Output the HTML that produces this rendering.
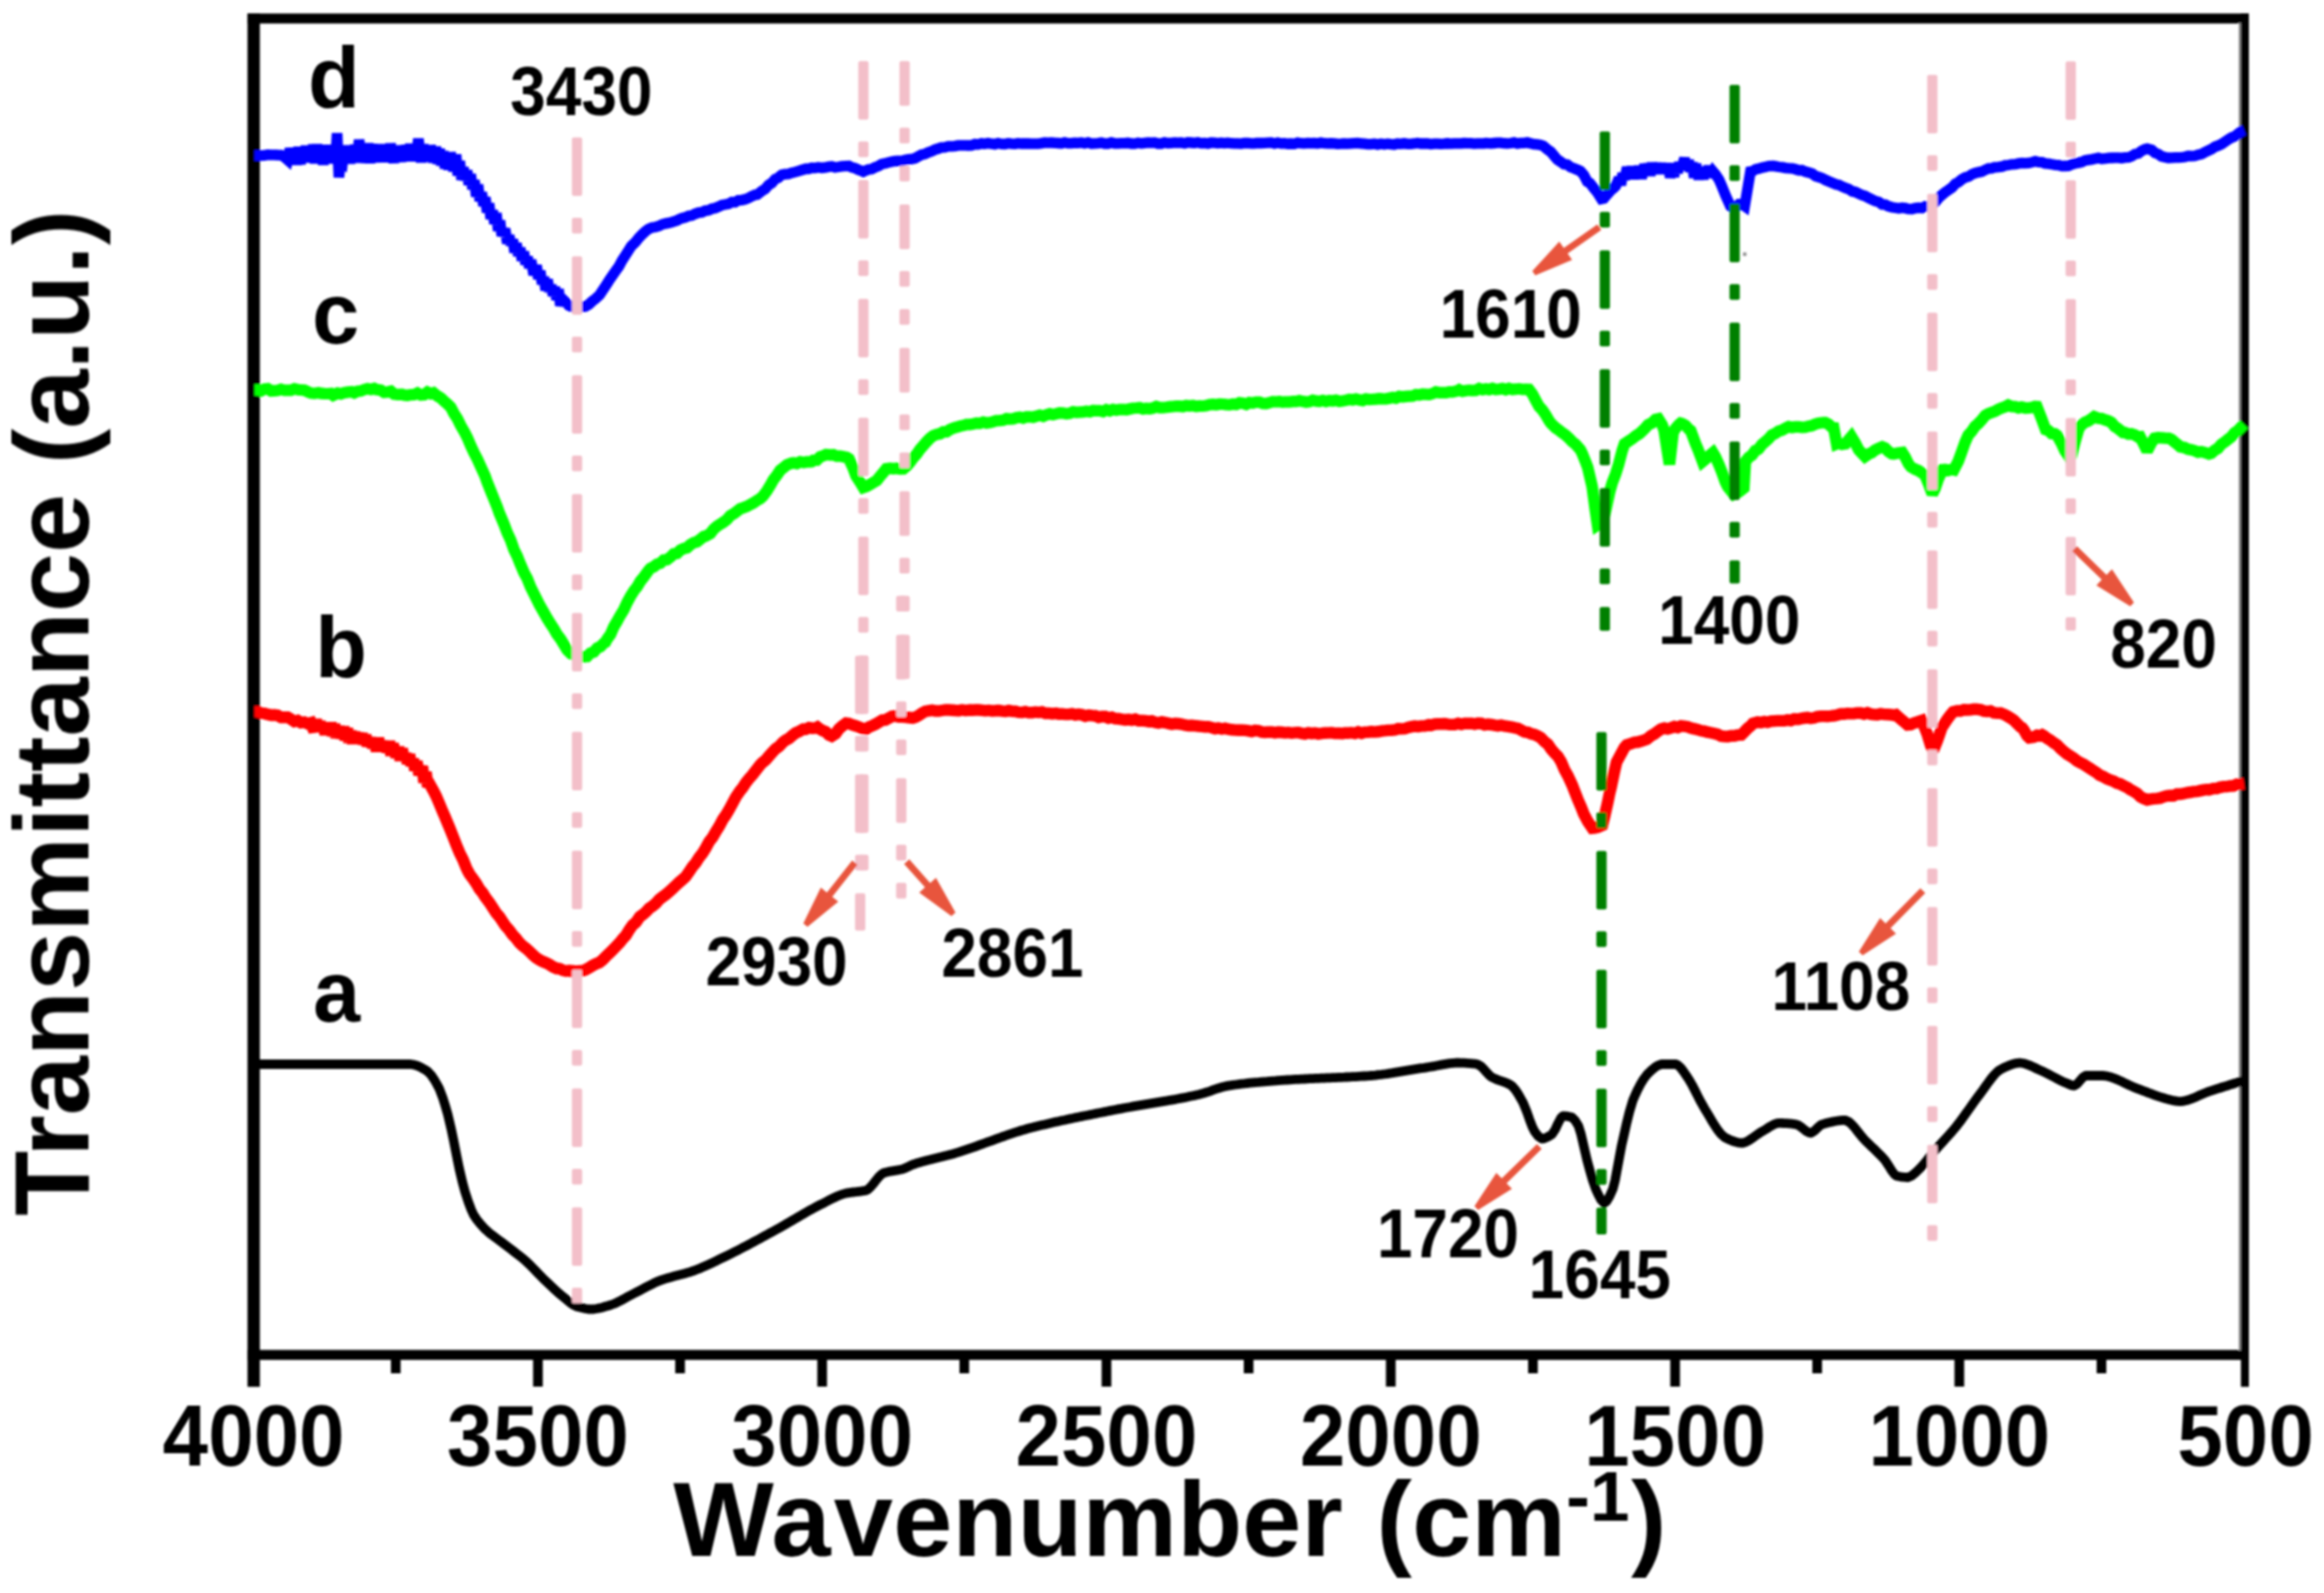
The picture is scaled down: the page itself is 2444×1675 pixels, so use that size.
<!DOCTYPE html>
<html lang="en">
<head>
<meta charset="utf-8">
<title>FTIR spectra</title>
<style>
html,body{margin:0;padding:0;background:#fff;}
body{width:2444px;height:1675px;overflow:hidden;}
svg{display:block;}
text{font-family:"Liberation Sans",Arial,Helvetica,sans-serif;font-weight:bold;fill:#000;}
.tk{font-size:90px;}
.an{font-size:69px;}
.lt{font-size:89px;}
.ax{font-size:112px;}
.cv{fill:none;stroke-linejoin:round;stroke-linecap:butt;}
.cm{fill:none;stroke-linejoin:miter;stroke-miterlimit:2.2;stroke-linecap:butt;}
</style>
</head>
<body>
<svg width="2444" height="1675" viewBox="0 0 2444 1675">
<defs><filter id="soft" x="0" y="0" width="2444" height="1675" filterUnits="userSpaceOnUse"><feGaussianBlur stdDeviation="1"/></filter></defs>
<rect x="0" y="0" width="2444" height="1675" fill="#fff"/>
<g filter="url(#soft)">
<!-- frame -->
<rect x="260.5" y="14.2" width="2104.5" height="10.5" fill="#000"/>
<rect x="260.5" y="1419.4" width="2104.5" height="10.5" fill="#000"/>
<rect x="260.3" y="14.2" width="13" height="1444" fill="#000"/>
<rect x="2354.4" y="24" width="3" height="1396" fill="#8a8a8a"/>
<rect x="2356.6" y="14.2" width="8.4" height="1444" fill="#000"/>
<g>
<rect x="411.1" y="1425" width="10.2" height="19" fill="#000"/>
<rect x="560.6" y="1425" width="10.2" height="33" fill="#000"/>
<rect x="710.1" y="1425" width="10.2" height="19" fill="#000"/>
<rect x="859.5" y="1425" width="10.2" height="33" fill="#000"/>
<rect x="1009.0" y="1425" width="10.2" height="19" fill="#000"/>
<rect x="1158.5" y="1425" width="10.2" height="33" fill="#000"/>
<rect x="1308.0" y="1425" width="10.2" height="19" fill="#000"/>
<rect x="1457.5" y="1425" width="10.2" height="33" fill="#000"/>
<rect x="1607.0" y="1425" width="10.2" height="19" fill="#000"/>
<rect x="1756.5" y="1425" width="10.2" height="33" fill="#000"/>
<rect x="1905.9" y="1425" width="10.2" height="19" fill="#000"/>
<rect x="2055.4" y="1425" width="10.2" height="33" fill="#000"/>
<rect x="2204.9" y="1425" width="10.2" height="19" fill="#000"/>
</g>
<!-- spectra a, b, c, d -->
<path class="cv" d="M267.5 1119.0 L270.5 1119.0 L273.5 1119.0 L276.5 1119.0 L279.5 1119.0 L282.5 1119.0 L285.5 1119.0 L288.5 1119.0 L291.5 1119.0 L294.5 1119.0 L297.5 1119.0 L300.5 1119.0 L303.5 1119.0 L306.5 1119.0 L309.5 1119.0 L312.5 1119.0 L315.5 1119.0 L318.5 1119.0 L321.5 1119.0 L324.5 1119.0 L327.5 1119.0 L330.5 1119.0 L333.5 1119.0 L336.5 1119.0 L339.5 1119.0 L342.5 1119.0 L345.5 1119.0 L348.5 1119.0 L351.5 1119.0 L354.5 1119.0 L357.5 1119.0 L360.5 1119.0 L363.5 1119.0 L366.5 1119.0 L369.5 1119.0 L372.5 1119.0 L375.5 1119.0 L378.5 1119.0 L381.5 1119.0 L384.5 1119.0 L387.5 1119.0 L390.5 1119.0 L393.5 1119.0 L396.5 1119.0 L399.5 1119.0 L402.5 1119.0 L405.5 1119.0 L408.5 1119.0 L411.5 1119.0 L414.5 1119.0 L417.5 1119.0 L420.5 1119.0 L423.5 1119.0 L426.5 1119.0 L429.5 1119.0 L431.8 1119.0 L435.5 1119.6 L438.5 1120.5 L441.5 1121.8 L444.5 1123.4 L447.5 1125.1 L449.8 1126.6 L453.5 1130.5 L456.5 1134.9 L459.5 1140.1 L461.9 1144.6 L465.5 1153.9 L468.5 1163.5 L470.9 1171.8 L474.5 1187.2 L477.0 1198.9 L480.5 1216.7 L483.0 1229.0 L486.5 1243.8 L489.0 1253.0 L492.5 1263.7 L495.5 1271.8 L498.0 1277.2 L501.5 1282.5 L504.5 1286.2 L507.5 1289.6 L510.1 1292.3 L513.5 1295.4 L516.5 1297.9 L519.5 1300.2 L522.5 1302.4 L525.5 1304.6 L528.5 1306.8 L531.2 1308.9 L534.5 1311.4 L537.5 1313.7 L540.5 1316.0 L543.5 1318.3 L546.5 1320.6 L549.5 1323.0 L552.3 1325.4 L555.5 1328.4 L558.5 1331.3 L561.5 1334.4 L564.5 1337.5 L567.5 1340.6 L570.5 1343.7 L573.4 1346.5 L576.5 1349.4 L579.5 1352.3 L582.5 1355.1 L585.5 1357.8 L588.5 1360.5 L591.5 1363.0 L594.5 1365.4 L597.5 1367.9 L600.5 1370.3 L603.5 1372.3 L606.5 1373.7 L609.5 1374.6 L612.5 1375.3 L615.5 1376.0 L618.5 1376.5 L621.6 1376.7 L624.5 1376.5 L627.5 1376.0 L630.5 1375.4 L633.5 1374.7 L636.5 1373.8 L639.5 1373.0 L642.7 1372.0 L645.5 1371.0 L648.5 1369.7 L651.5 1368.2 L654.5 1366.6 L657.5 1365.0 L660.5 1363.3 L663.5 1361.7 L666.8 1360.0 L669.5 1358.6 L672.5 1357.1 L675.5 1355.5 L678.5 1353.9 L681.5 1352.3 L684.5 1350.8 L687.5 1349.3 L690.5 1347.9 L693.9 1346.5 L696.5 1345.6 L699.5 1344.6 L702.5 1343.7 L705.5 1342.9 L708.5 1342.1 L711.5 1341.3 L714.5 1340.5 L717.5 1339.7 L720.5 1338.9 L723.5 1338.1 L726.5 1337.2 L730.0 1336.0 L732.5 1335.0 L735.5 1333.9 L738.5 1332.6 L741.5 1331.3 L744.5 1329.9 L747.5 1328.6 L750.5 1327.1 L753.5 1325.7 L756.5 1324.2 L759.5 1322.7 L762.5 1321.3 L765.5 1319.8 L768.5 1318.3 L772.3 1316.4 L774.5 1315.3 L777.5 1313.8 L780.5 1312.2 L783.5 1310.7 L786.5 1309.1 L789.5 1307.5 L792.5 1305.9 L795.5 1304.3 L798.5 1302.7 L801.5 1301.0 L804.5 1299.4 L807.5 1297.8 L810.5 1296.1 L813.5 1294.5 L817.5 1292.3 L819.5 1291.2 L822.5 1289.5 L825.5 1287.8 L828.5 1286.0 L831.5 1284.3 L834.5 1282.5 L837.5 1280.8 L840.5 1279.0 L843.5 1277.3 L846.5 1275.5 L849.5 1273.8 L852.5 1272.1 L855.5 1270.5 L858.5 1268.9 L862.7 1266.7 L864.5 1265.8 L867.5 1264.3 L870.5 1262.7 L873.5 1261.2 L876.5 1259.7 L879.5 1258.3 L882.5 1257.0 L885.5 1255.9 L889.8 1254.6 L891.5 1254.3 L894.5 1253.8 L897.5 1253.5 L900.5 1253.2 L903.5 1252.8 L906.5 1252.4 L909.5 1251.9 L910.9 1251.6 L912.5 1250.8 L915.5 1248.1 L918.5 1244.6 L921.5 1240.8 L924.5 1237.1 L927.5 1234.4 L929.0 1233.5 L930.5 1233.0 L933.5 1232.3 L936.5 1231.6 L939.5 1231.1 L942.5 1230.6 L945.5 1230.1 L948.5 1229.4 L950.0 1229.0 L951.5 1228.4 L954.5 1227.1 L957.5 1225.6 L960.0 1224.5 L963.5 1223.3 L966.5 1222.4 L969.5 1221.6 L972.5 1220.7 L975.5 1219.9 L978.5 1219.2 L981.5 1218.4 L984.5 1217.7 L987.5 1217.0 L990.5 1216.3 L993.5 1215.5 L996.5 1214.8 L999.5 1214.0 L1002.5 1213.2 L1005.2 1212.4 L1008.5 1211.4 L1011.5 1210.4 L1014.5 1209.4 L1017.5 1208.4 L1020.5 1207.4 L1023.5 1206.4 L1026.5 1205.3 L1029.5 1204.2 L1032.5 1203.1 L1035.5 1202.0 L1038.5 1200.9 L1041.5 1199.9 L1044.5 1198.8 L1047.5 1197.7 L1050.5 1196.6 L1053.5 1195.5 L1056.5 1194.5 L1059.5 1193.4 L1062.5 1192.4 L1065.5 1191.4 L1068.5 1190.4 L1071.5 1189.5 L1074.5 1188.5 L1077.5 1187.7 L1080.5 1186.8 L1083.5 1186.0 L1086.5 1185.3 L1089.5 1184.5 L1092.5 1183.8 L1095.5 1183.1 L1098.5 1182.4 L1101.5 1181.7 L1104.5 1181.0 L1107.5 1180.3 L1110.5 1179.6 L1113.5 1179.0 L1116.5 1178.3 L1119.5 1177.7 L1122.5 1177.0 L1125.5 1176.4 L1128.5 1175.8 L1131.5 1175.1 L1134.5 1174.5 L1137.5 1173.9 L1140.5 1173.3 L1143.5 1172.7 L1146.5 1172.1 L1149.5 1171.5 L1152.5 1170.9 L1155.5 1170.3 L1158.5 1169.7 L1161.5 1169.1 L1164.5 1168.5 L1167.5 1167.9 L1170.9 1167.2 L1173.5 1166.7 L1176.5 1166.1 L1179.5 1165.6 L1182.5 1165.0 L1185.5 1164.5 L1188.5 1164.0 L1191.5 1163.4 L1194.5 1162.9 L1197.5 1162.4 L1200.5 1161.9 L1203.5 1161.4 L1206.5 1160.9 L1209.5 1160.4 L1212.5 1159.9 L1215.5 1159.4 L1218.5 1158.9 L1221.5 1158.4 L1224.5 1157.9 L1227.5 1157.4 L1230.5 1156.8 L1233.5 1156.3 L1236.5 1155.8 L1239.5 1155.2 L1242.5 1154.6 L1245.5 1154.1 L1248.5 1153.5 L1251.5 1152.8 L1254.5 1152.2 L1257.5 1151.6 L1261.3 1150.7 L1263.5 1150.1 L1266.5 1149.2 L1269.5 1148.3 L1272.5 1147.3 L1275.5 1146.2 L1278.5 1145.2 L1281.5 1144.2 L1284.5 1143.3 L1287.5 1142.5 L1291.5 1141.6 L1293.5 1141.3 L1296.5 1140.9 L1299.5 1140.5 L1302.5 1140.1 L1305.5 1139.7 L1308.5 1139.4 L1311.5 1139.0 L1314.5 1138.7 L1317.5 1138.4 L1320.5 1138.1 L1323.5 1137.9 L1326.5 1137.6 L1329.5 1137.3 L1332.5 1137.1 L1335.5 1136.8 L1338.5 1136.6 L1341.5 1136.4 L1344.5 1136.1 L1347.5 1135.9 L1351.7 1135.6 L1353.5 1135.5 L1356.5 1135.3 L1359.5 1135.1 L1362.5 1134.9 L1365.5 1134.8 L1368.5 1134.6 L1371.5 1134.5 L1374.5 1134.3 L1377.5 1134.2 L1380.5 1134.1 L1383.5 1133.9 L1386.5 1133.8 L1389.5 1133.7 L1392.5 1133.6 L1395.5 1133.4 L1398.5 1133.3 L1401.5 1133.2 L1404.5 1133.1 L1407.5 1132.9 L1410.5 1132.8 L1413.5 1132.7 L1416.5 1132.5 L1419.5 1132.4 L1422.5 1132.2 L1425.5 1132.1 L1428.5 1131.9 L1431.5 1131.7 L1434.5 1131.5 L1437.5 1131.3 L1440.5 1131.1 L1442.0 1131.0 L1443.5 1130.9 L1446.5 1130.6 L1449.5 1130.2 L1452.5 1129.9 L1455.5 1129.5 L1458.5 1129.1 L1461.5 1128.6 L1464.5 1128.2 L1467.5 1127.7 L1470.5 1127.2 L1473.5 1126.7 L1476.5 1126.2 L1479.5 1125.7 L1482.5 1125.2 L1485.5 1124.7 L1488.5 1124.2 L1491.5 1123.7 L1494.5 1123.2 L1497.5 1122.8 L1500.5 1122.3 L1502.4 1122.0 L1506.5 1121.3 L1509.5 1120.8 L1512.5 1120.2 L1515.5 1119.6 L1518.5 1119.1 L1521.5 1118.6 L1524.5 1118.1 L1527.5 1117.8 L1530.5 1117.6 L1532.5 1117.5 L1536.5 1117.6 L1539.5 1117.7 L1542.5 1117.9 L1545.5 1118.1 L1548.5 1118.4 L1551.5 1118.7 L1553.6 1119.0 L1557.5 1121.3 L1560.5 1124.3 L1563.5 1127.7 L1566.5 1130.9 L1568.7 1132.6 L1572.5 1134.4 L1575.5 1135.6 L1578.5 1136.6 L1581.5 1137.6 L1584.5 1138.8 L1587.5 1140.2 L1589.8 1141.6 L1593.5 1145.7 L1596.5 1150.3 L1599.5 1155.5 L1601.8 1159.7 L1605.5 1168.7 L1608.5 1177.2 L1611.5 1185.1 L1613.9 1189.8 L1617.5 1194.5 L1621.4 1197.4 L1623.5 1197.1 L1626.5 1196.0 L1629.5 1194.4 L1632.0 1192.9 L1635.5 1187.6 L1638.5 1181.2 L1641.5 1175.5 L1644.0 1173.3 L1647.5 1173.6 L1650.5 1174.2 L1653.0 1174.8 L1656.5 1178.2 L1660.0 1184.0 L1662.5 1191.9 L1665.5 1204.9 L1669.0 1220.0 L1671.5 1229.1 L1674.5 1239.8 L1678.0 1250.0 L1680.5 1255.5 L1683.5 1261.4 L1687.0 1265.0 L1689.5 1263.1 L1692.5 1258.2 L1696.2 1250.0 L1698.5 1241.0 L1701.5 1224.8 L1705.2 1205.0 L1707.5 1194.8 L1710.5 1181.5 L1713.5 1169.3 L1717.3 1156.7 L1719.5 1151.6 L1722.5 1145.2 L1725.5 1139.5 L1728.5 1134.6 L1732.3 1129.6 L1734.5 1127.5 L1737.5 1124.7 L1740.5 1122.2 L1743.5 1120.3 L1747.4 1119.0 L1749.5 1119.0 L1752.5 1119.0 L1755.5 1119.0 L1758.5 1119.0 L1762.5 1119.0 L1764.5 1119.9 L1767.5 1122.8 L1770.5 1126.8 L1774.5 1132.6 L1776.5 1135.7 L1779.5 1140.9 L1782.5 1146.6 L1785.5 1152.6 L1788.5 1158.4 L1792.6 1165.7 L1794.5 1168.8 L1797.5 1173.8 L1800.5 1178.9 L1803.5 1183.8 L1806.5 1188.2 L1809.5 1192.1 L1813.7 1195.9 L1815.5 1196.8 L1818.5 1198.2 L1821.5 1199.5 L1824.5 1200.5 L1827.5 1201.3 L1831.8 1201.9 L1833.5 1201.6 L1836.5 1200.6 L1839.5 1198.9 L1842.5 1196.9 L1845.5 1194.8 L1848.5 1192.6 L1851.5 1190.6 L1852.9 1189.8 L1854.5 1188.9 L1857.5 1187.1 L1860.5 1185.1 L1863.5 1183.4 L1866.5 1181.9 L1869.5 1181.0 L1870.9 1180.8 L1872.5 1180.8 L1875.5 1181.0 L1878.5 1181.1 L1881.5 1181.4 L1884.5 1181.7 L1887.5 1182.1 L1889.0 1182.3 L1890.5 1182.8 L1893.5 1184.6 L1896.5 1187.0 L1899.5 1189.4 L1902.5 1191.0 L1904.0 1191.3 L1905.5 1190.8 L1908.5 1188.7 L1911.5 1185.7 L1914.5 1183.1 L1916.0 1182.3 L1917.5 1181.9 L1920.5 1181.0 L1923.5 1180.2 L1926.5 1179.6 L1929.5 1179.0 L1932.5 1178.5 L1935.5 1178.1 L1938.5 1177.9 L1940.2 1177.8 L1944.5 1179.8 L1947.5 1182.4 L1950.5 1185.8 L1953.5 1189.6 L1956.5 1193.4 L1959.5 1197.0 L1961.3 1198.9 L1965.5 1203.0 L1968.5 1205.9 L1971.5 1208.7 L1974.5 1211.7 L1977.5 1214.7 L1980.5 1217.9 L1982.4 1220.0 L1986.5 1226.2 L1989.5 1231.1 L1992.5 1235.1 L1994.5 1236.5 L1998.5 1237.3 L2001.5 1237.7 L2004.5 1237.9 L2006.5 1238.0 L2010.5 1236.3 L2013.5 1233.8 L2016.5 1231.0 L2018.6 1229.0 L2022.5 1224.8 L2025.5 1221.2 L2028.5 1217.4 L2031.5 1213.6 L2033.7 1211.0 L2037.5 1206.7 L2040.5 1203.4 L2043.5 1200.1 L2046.5 1196.8 L2049.5 1193.4 L2052.5 1190.1 L2055.5 1186.6 L2057.8 1183.8 L2061.5 1179.0 L2064.5 1174.9 L2067.5 1170.7 L2070.5 1166.5 L2073.5 1162.2 L2076.5 1158.0 L2079.5 1153.9 L2081.9 1150.7 L2085.5 1145.9 L2088.5 1141.7 L2091.5 1137.5 L2094.5 1133.5 L2097.5 1129.9 L2100.5 1126.9 L2103.0 1125.0 L2106.5 1123.2 L2109.5 1121.7 L2112.5 1120.4 L2115.5 1119.3 L2118.5 1118.4 L2121.5 1117.8 L2124.0 1117.5 L2127.5 1118.0 L2130.5 1118.8 L2133.5 1119.9 L2136.5 1121.1 L2139.5 1122.5 L2142.5 1124.0 L2145.5 1125.4 L2148.2 1126.6 L2151.5 1128.1 L2154.5 1129.6 L2157.5 1131.2 L2160.5 1132.8 L2163.5 1134.4 L2166.5 1136.0 L2169.5 1137.4 L2172.3 1138.6 L2175.5 1139.9 L2178.5 1141.1 L2181.3 1141.6 L2184.5 1139.6 L2187.5 1136.1 L2190.5 1132.7 L2193.4 1131.0 L2196.5 1131.0 L2199.5 1131.0 L2202.5 1131.0 L2205.5 1131.0 L2208.5 1131.0 L2211.4 1131.0 L2214.5 1131.3 L2217.5 1132.0 L2220.5 1132.8 L2223.5 1133.9 L2226.5 1135.1 L2229.5 1136.4 L2232.5 1137.8 L2235.5 1139.3 L2238.5 1140.7 L2241.5 1142.1 L2244.5 1143.4 L2247.6 1144.6 L2250.5 1145.7 L2253.5 1146.8 L2256.5 1147.9 L2259.5 1149.1 L2262.5 1150.2 L2265.5 1151.3 L2268.5 1152.4 L2271.5 1153.4 L2274.5 1154.3 L2277.7 1155.2 L2280.5 1155.9 L2283.5 1156.7 L2286.5 1157.4 L2289.5 1157.9 L2292.8 1158.2 L2295.5 1157.9 L2298.5 1157.3 L2301.5 1156.5 L2304.5 1155.4 L2307.5 1154.2 L2310.5 1152.9 L2313.5 1151.5 L2316.5 1150.2 L2319.5 1149.0 L2323.0 1147.7 L2325.5 1146.9 L2328.5 1145.9 L2331.5 1144.9 L2334.5 1144.0 L2337.5 1143.0 L2340.5 1142.1 L2343.5 1141.2 L2346.5 1140.2 L2349.5 1139.3 L2352.5 1138.4 L2355.5 1137.4 L2358.5 1136.5 L2360.0 1136.0" stroke="#000" stroke-width="9.8"/>
<path class="cm" d="M267.5 748.4 L271.0 748.4 L274.5 749.8 L278.0 750.2 L281.5 751.2 L285.0 751.9 L288.5 751.7 L292.0 752.3 L295.5 754.3 L299.0 754.1 L302.5 754.2 L305.2 755.7 L309.5 758.6 L313.0 757.6 L316.5 759.8 L320.0 759.4 L323.5 760.9 L327.0 760.0 L330.5 769.2 L332.4 756.5 L334.4 768.7 L336.3 758.7 L338.2 768.4 L340.1 760.4 L342.1 772.6 L344.0 760.0 L345.9 772.4 L347.8 760.0 L349.8 773.7 L351.7 761.4 L353.6 775.8 L356.4 764.3 L359.4 775.7 L361.3 764.2 L363.2 778.2 L365.2 765.9 L367.1 780.6 L369.0 768.7 L370.9 781.8 L372.9 769.9 L374.8 781.0 L376.7 770.9 L378.6 780.4 L380.6 771.4 L382.5 782.4 L384.4 772.7 L386.3 784.3 L389.6 776.3 L392.1 785.9 L394.0 776.7 L396.0 790.1 L397.9 775.9 L399.8 787.5 L401.7 779.5 L403.7 789.1 L405.6 780.6 L407.5 790.9 L409.4 779.3 L411.4 794.4 L413.3 782.2 L416.7 796.0 L419.1 785.3 L421.0 799.8 L422.9 787.2 L424.8 799.5 L426.8 792.4 L428.7 802.9 L430.6 793.1 L432.5 805.1 L434.5 797.9 L436.4 810.1 L438.3 800.7 L440.8 814.6 L444.1 805.8 L446.0 822.7 L447.9 811.8 L449.9 827.3 L451.8 824.3 L455.9 831.7 L458.8 837.3 L462.3 845.6 L465.8 854.1 L467.9 858.8 L472.8 870.5 L476.3 879.3 L480.0 888.7 L483.3 896.7 L486.8 903.6 L490.3 912.3 L492.0 915.9 L493.8 919.1 L497.3 923.8 L500.8 928.9 L504.3 934.9 L507.8 939.2 L510.1 943.0 L514.8 949.2 L518.3 954.7 L521.8 960.1 L525.3 964.1 L528.8 969.4 L531.2 973.0 L535.8 978.3 L539.3 983.2 L542.8 986.7 L546.3 991.4 L549.3 994.2 L553.3 997.2 L556.8 1000.4 L560.3 1003.9 L563.8 1007.1 L567.4 1009.3 L570.8 1011.0 L574.3 1012.5 L577.8 1014.2 L581.3 1016.5 L585.4 1018.3 L588.3 1018.5 L591.8 1020.2 L595.3 1021.0 L598.8 1020.6 L600.5 1021.3 L602.3 1020.8 L605.8 1021.4 L609.3 1020.8 L612.8 1020.6 L615.6 1019.8 L619.8 1017.5 L623.3 1015.2 L626.8 1013.4 L630.3 1012.0 L633.7 1009.3 L637.3 1005.6 L640.8 1002.3 L644.3 998.8 L647.8 995.2 L651.7 991.2 L654.8 987.2 L658.3 983.5 L661.8 977.6 L665.3 972.7 L668.8 969.7 L672.8 964.0 L675.8 961.9 L679.3 958.9 L682.8 955.0 L686.3 952.8 L689.8 949.8 L693.3 945.7 L696.9 943.0 L700.3 940.5 L703.8 937.6 L707.3 934.4 L710.8 931.1 L714.3 927.7 L717.8 924.7 L721.0 921.9 L724.8 916.4 L728.3 911.3 L731.8 907.1 L735.3 901.5 L738.8 897.2 L742.1 891.8 L745.8 885.0 L749.3 880.6 L752.8 874.4 L756.3 868.9 L760.2 861.6 L763.3 857.1 L766.8 851.2 L770.3 844.8 L773.8 838.1 L778.3 831.5 L780.8 828.6 L784.3 823.1 L787.8 818.7 L791.3 814.8 L794.8 810.2 L799.4 804.4 L801.8 801.8 L805.3 799.0 L808.8 794.9 L812.3 790.9 L815.8 787.3 L819.3 784.9 L823.5 780.3 L826.3 778.3 L829.8 776.4 L833.3 773.3 L836.8 770.7 L840.3 769.1 L844.6 766.7 L847.3 766.8 L850.8 765.2 L854.3 765.7 L857.8 765.5 L859.6 764.6 L861.3 765.9 L864.8 768.1 L868.3 769.3 L871.8 772.7 L874.7 774.0 L878.8 771.4 L882.3 766.5 L885.8 763.3 L889.8 760.5 L892.8 760.8 L896.3 762.2 L899.8 763.2 L903.3 764.4 L906.8 766.0 L910.9 766.5 L913.8 764.6 L917.3 763.1 L920.8 761.4 L924.3 759.4 L927.8 757.3 L931.3 756.9 L934.8 755.1 L938.0 753.3 L941.8 752.9 L945.3 753.8 L948.8 753.8 L952.3 754.1 L955.8 754.5 L960.0 755.0 L962.8 754.1 L966.3 752.2 L969.8 749.9 L973.3 747.9 L975.0 747.7 L976.8 747.4 L980.3 746.9 L983.8 747.5 L987.3 747.6 L990.8 747.0 L994.3 746.4 L997.8 746.5 L1001.3 746.7 L1004.8 747.0 L1008.3 747.2 L1011.8 746.5 L1015.3 747.1 L1020.3 746.5 L1022.3 746.7 L1025.8 746.5 L1029.3 746.5 L1032.8 746.8 L1036.3 747.3 L1039.8 746.9 L1043.3 747.5 L1046.8 747.3 L1050.3 747.0 L1053.8 747.6 L1057.3 748.0 L1060.8 747.2 L1064.3 747.9 L1067.8 748.0 L1071.3 748.9 L1074.8 749.1 L1078.3 748.4 L1081.8 749.4 L1085.3 749.3 L1088.8 748.7 L1092.3 749.1 L1095.8 748.7 L1099.3 750.0 L1102.8 749.9 L1106.3 750.4 L1110.7 750.0 L1113.3 750.7 L1116.8 750.7 L1120.3 751.1 L1123.8 751.1 L1127.3 750.6 L1130.8 751.7 L1134.3 751.1 L1137.8 751.6 L1141.3 752.9 L1144.8 752.0 L1148.3 752.4 L1151.8 752.7 L1155.3 754.3 L1158.8 753.4 L1162.3 753.5 L1165.8 755.1 L1169.3 754.3 L1172.8 755.7 L1176.3 755.8 L1179.8 756.4 L1183.3 756.9 L1186.8 756.6 L1190.3 757.2 L1193.8 756.3 L1197.3 757.8 L1201.0 757.7 L1204.3 758.0 L1207.8 758.7 L1211.3 758.1 L1214.8 759.5 L1218.3 760.1 L1221.8 759.1 L1225.3 759.8 L1228.8 760.6 L1232.3 761.4 L1235.8 760.8 L1239.3 761.0 L1242.8 761.5 L1246.3 762.4 L1249.8 763.0 L1253.3 762.8 L1256.8 763.1 L1260.3 763.5 L1263.8 763.8 L1267.3 764.2 L1270.8 764.1 L1274.3 765.1 L1277.8 766.2 L1281.3 765.6 L1284.8 766.5 L1288.3 765.9 L1291.5 766.7 L1295.3 767.3 L1298.8 767.6 L1302.3 767.7 L1305.8 767.7 L1309.3 767.9 L1312.8 768.4 L1316.3 769.1 L1319.8 768.1 L1323.3 768.3 L1326.8 769.6 L1330.3 770.0 L1333.8 769.6 L1337.3 769.7 L1340.8 770.4 L1344.3 769.7 L1347.8 770.0 L1351.7 770.6 L1354.8 770.2 L1358.3 770.8 L1361.8 770.4 L1365.3 770.3 L1368.8 771.1 L1372.3 771.6 L1375.8 770.6 L1379.3 771.2 L1382.8 770.8 L1386.3 771.6 L1389.8 771.2 L1393.3 770.7 L1396.8 770.6 L1400.3 770.4 L1403.8 771.1 L1407.3 771.0 L1412.0 771.2 L1414.3 770.6 L1417.8 770.7 L1421.3 770.4 L1424.8 771.0 L1428.3 769.7 L1431.8 770.9 L1435.3 769.8 L1438.8 769.7 L1442.3 769.3 L1445.8 769.6 L1449.3 769.3 L1452.8 768.6 L1457.2 768.2 L1459.8 767.9 L1463.3 767.8 L1466.8 767.5 L1470.3 766.3 L1473.8 766.4 L1477.3 766.2 L1480.8 764.9 L1484.3 764.1 L1487.8 763.6 L1491.3 763.9 L1494.8 763.4 L1498.3 763.4 L1502.4 762.2 L1505.3 762.7 L1508.8 761.5 L1512.3 761.3 L1515.8 761.3 L1519.3 761.0 L1522.8 761.7 L1526.3 761.9 L1529.8 761.8 L1533.3 760.7 L1536.8 761.6 L1540.3 760.6 L1543.8 760.7 L1547.6 760.7 L1550.8 761.3 L1554.3 760.5 L1557.8 760.7 L1561.3 762.2 L1564.8 761.6 L1568.3 762.0 L1571.8 762.7 L1575.3 763.2 L1578.8 762.5 L1582.3 763.4 L1585.8 763.9 L1590.0 764.5 L1592.8 765.3 L1596.3 766.0 L1599.8 767.7 L1603.3 769.6 L1606.8 770.0 L1610.3 771.6 L1613.8 772.3 L1617.3 774.0 L1620.3 775.7 L1624.3 779.8 L1627.8 782.5 L1631.3 787.7 L1634.8 791.8 L1638.3 795.3 L1641.8 801.1 L1645.3 809.4 L1648.8 815.7 L1653.4 825.5 L1655.8 831.8 L1659.3 840.6 L1662.8 848.7 L1665.5 855.6 L1669.8 863.8 L1674.5 870.7 L1676.8 870.5 L1680.3 869.8 L1685.0 867.7 L1687.3 858.9 L1690.8 843.3 L1692.6 834.5 L1694.3 827.6 L1697.8 810.9 L1700.0 801.4 L1704.8 792.5 L1708.3 786.1 L1710.7 783.3 L1715.3 781.8 L1718.8 780.6 L1722.3 780.3 L1725.8 779.3 L1729.3 778.2 L1731.8 777.3 L1736.3 773.7 L1739.8 771.7 L1743.3 769.1 L1746.8 766.7 L1750.3 765.6 L1753.8 766.3 L1757.3 765.4 L1760.8 764.1 L1764.3 765.0 L1767.8 763.4 L1770.9 763.7 L1774.8 764.2 L1778.3 765.6 L1781.8 766.3 L1785.3 767.2 L1788.8 768.3 L1792.3 768.9 L1795.0 769.7 L1799.3 770.5 L1802.8 771.3 L1806.3 772.1 L1809.8 773.9 L1813.0 774.2 L1816.8 774.4 L1820.3 773.8 L1823.8 773.8 L1827.3 772.9 L1831.2 772.7 L1834.3 769.6 L1837.8 765.9 L1841.3 763.0 L1843.3 760.7 L1848.3 759.3 L1851.8 759.7 L1855.3 758.9 L1858.8 759.4 L1862.3 758.4 L1865.8 758.1 L1869.3 757.9 L1872.8 757.9 L1876.3 757.9 L1879.8 757.0 L1883.3 757.5 L1886.8 756.0 L1891.5 756.2 L1893.8 755.6 L1897.3 755.0 L1900.8 754.6 L1904.3 755.3 L1907.8 754.8 L1911.3 753.5 L1914.8 753.1 L1918.3 753.1 L1921.8 753.2 L1925.3 752.9 L1928.8 752.5 L1932.3 751.8 L1935.8 750.8 L1939.3 750.8 L1942.8 750.2 L1946.3 750.4 L1949.8 750.2 L1951.7 750.0 L1953.3 749.6 L1956.8 749.7 L1960.3 750.7 L1963.8 749.6 L1967.3 750.9 L1970.8 751.2 L1974.3 751.4 L1977.8 750.6 L1981.3 751.1 L1984.8 751.3 L1988.3 751.5 L1991.8 752.2 L1993.9 751.6 L1998.8 756.0 L2002.3 758.9 L2006.0 762.2 L2009.3 761.9 L2012.8 760.2 L2016.3 759.2 L2021.0 757.7 L2023.3 763.0 L2026.8 772.0 L2030.3 783.6 L2033.0 789.3 L2037.3 778.9 L2042.0 765.2 L2044.3 761.7 L2047.8 756.4 L2051.3 751.6 L2054.0 748.6 L2058.3 747.4 L2061.8 747.5 L2065.3 746.2 L2068.8 746.5 L2072.3 746.4 L2075.8 745.7 L2078.3 745.6 L2082.8 746.3 L2086.3 747.6 L2089.8 748.1 L2093.3 747.6 L2096.8 749.4 L2100.3 749.9 L2103.8 749.8 L2108.4 751.6 L2110.8 752.9 L2114.3 755.1 L2117.8 757.4 L2121.3 760.9 L2124.8 764.4 L2126.5 765.2 L2128.3 767.4 L2131.8 773.7 L2134.0 775.7 L2138.8 775.0 L2142.3 773.2 L2145.8 773.6 L2147.6 772.7 L2149.3 773.7 L2152.8 776.4 L2156.3 778.4 L2159.8 781.1 L2163.3 783.3 L2166.8 787.0 L2170.3 790.1 L2173.8 792.9 L2177.7 795.3 L2180.8 797.2 L2184.3 800.1 L2187.8 802.0 L2191.3 803.7 L2194.8 805.9 L2198.3 808.2 L2201.8 810.6 L2205.3 812.7 L2207.9 814.9 L2212.3 816.9 L2215.8 818.9 L2219.3 820.2 L2222.8 821.5 L2226.3 823.4 L2229.8 824.4 L2233.3 826.2 L2238.0 828.5 L2240.3 830.3 L2243.8 832.1 L2247.3 834.2 L2250.8 837.7 L2254.3 839.5 L2258.1 841.0 L2261.3 840.4 L2264.8 839.9 L2268.3 839.6 L2271.8 839.1 L2275.3 837.8 L2278.8 836.8 L2282.3 836.5 L2285.8 836.7 L2289.3 835.0 L2292.8 835.0 L2296.3 834.4 L2299.8 833.5 L2303.3 833.0 L2306.8 832.4 L2310.3 832.2 L2313.8 831.4 L2317.3 830.6 L2320.8 830.2 L2323.0 830.5 L2327.8 829.1 L2331.3 829.1 L2334.8 827.8 L2338.3 827.1 L2341.8 827.1 L2345.3 826.5 L2348.8 826.3 L2352.3 824.6 L2355.8 824.6 L2360.0 824.0" stroke="#ff0000" stroke-width="12.4"/>
<path class="cm" d="M267.5 410.0 L271.0 410.0 L274.5 410.9 L278.0 409.1 L281.5 408.7 L285.0 411.1 L288.5 410.8 L292.0 410.5 L295.5 409.4 L299.0 410.3 L302.5 410.3 L306.0 410.3 L309.5 408.9 L314.2 410.0 L316.5 410.0 L320.0 410.3 L323.5 411.9 L327.0 413.3 L330.5 413.7 L335.0 413.0 L337.5 413.6 L341.0 413.9 L344.5 414.0 L348.0 413.8 L350.4 415.6 L355.0 413.4 L358.5 414.1 L362.0 413.0 L365.5 412.4 L370.0 412.0 L372.5 413.0 L376.0 411.4 L379.5 411.1 L383.0 409.7 L386.5 408.7 L390.0 409.4 L393.5 408.5 L395.6 409.5 L400.5 410.3 L404.0 412.6 L407.5 412.3 L411.0 411.5 L414.5 414.5 L418.0 414.9 L422.7 414.7 L425.0 415.4 L428.5 415.8 L432.0 415.1 L435.5 415.0 L439.0 413.4 L442.5 415.3 L446.0 415.0 L449.5 412.3 L453.0 414.0 L455.9 413.1 L460.0 416.4 L463.5 418.4 L467.0 421.7 L470.5 424.8 L474.0 428.2 L477.5 434.9 L481.0 440.3 L484.5 447.5 L489.0 455.3 L491.5 460.2 L495.0 468.6 L498.5 476.1 L502.0 482.7 L505.5 490.5 L510.1 500.5 L512.5 507.4 L516.0 516.1 L519.5 524.8 L523.0 533.5 L525.2 539.7 L530.0 551.1 L533.5 560.4 L537.0 567.9 L540.5 577.8 L544.0 585.0 L546.3 590.9 L551.0 602.0 L554.5 608.4 L558.0 617.3 L561.5 624.2 L565.0 631.2 L567.4 636.1 L572.0 644.1 L575.5 650.3 L579.0 656.0 L582.5 661.2 L585.4 666.3 L589.5 671.8 L593.0 677.7 L596.5 683.5 L600.5 687.4 L603.5 688.4 L607.0 688.1 L610.5 690.2 L614.0 690.6 L615.6 690.4 L617.5 690.3 L621.0 686.8 L624.5 685.5 L628.0 681.5 L631.5 679.9 L635.0 676.3 L636.7 675.3 L638.5 671.9 L642.0 667.1 L645.5 659.0 L649.0 653.2 L651.7 648.2 L656.0 641.1 L659.5 633.5 L663.0 627.1 L666.8 621.0 L670.0 617.1 L673.5 611.1 L677.0 606.8 L681.9 600.0 L684.0 597.6 L687.5 595.9 L691.0 593.3 L694.5 592.2 L698.0 588.9 L701.5 588.5 L706.0 584.9 L708.5 582.5 L712.0 581.8 L715.5 578.4 L719.0 576.9 L722.5 576.0 L726.0 572.7 L729.5 570.7 L733.0 569.7 L736.5 567.0 L740.0 564.2 L742.1 563.8 L747.0 561.0 L750.5 556.5 L754.0 553.4 L757.5 551.2 L761.0 548.9 L764.5 546.3 L768.0 542.3 L772.3 539.7 L775.0 537.7 L778.5 535.0 L782.0 533.8 L785.5 532.5 L789.0 530.5 L792.5 528.7 L796.0 526.3 L799.5 524.3 L802.4 521.6 L806.5 516.2 L810.0 510.3 L813.5 504.2 L817.0 499.7 L820.5 494.5 L824.0 491.7 L827.5 488.9 L832.5 487.0 L834.5 486.7 L838.0 487.3 L841.5 485.6 L845.0 486.3 L848.5 485.7 L852.0 485.7 L853.6 485.5 L855.5 484.0 L859.0 483.8 L862.5 480.4 L866.0 479.2 L868.7 477.9 L873.0 478.3 L876.5 478.1 L880.0 479.7 L883.5 479.6 L887.0 480.2 L890.5 481.0 L892.8 482.5 L897.5 492.8 L900.3 500.5 L904.5 507.1 L907.9 512.6 L911.5 511.4 L915.0 509.4 L919.9 506.6 L922.0 505.3 L925.5 500.9 L929.0 496.8 L932.0 493.0 L936.0 492.5 L939.5 492.9 L943.0 492.5 L946.5 493.2 L950.0 493.0 L953.5 490.0 L957.0 486.2 L960.0 482.0 L964.0 477.6 L967.5 472.4 L971.0 468.4 L974.5 464.5 L978.0 460.8 L981.5 458.2 L985.0 456.8 L988.5 456.1 L992.0 454.1 L995.5 454.0 L999.0 451.7 L1002.5 450.2 L1006.0 449.2 L1009.5 448.1 L1014.0 447.2 L1016.5 446.3 L1020.0 446.3 L1023.5 445.7 L1027.0 444.9 L1030.5 445.1 L1034.0 443.8 L1037.5 444.7 L1041.0 444.3 L1044.5 443.4 L1048.0 442.3 L1051.5 442.1 L1055.0 441.8 L1058.5 440.3 L1062.0 440.6 L1065.5 440.4 L1069.0 439.3 L1072.5 438.7 L1076.0 439.7 L1079.5 438.4 L1083.0 438.3 L1086.5 438.7 L1090.0 437.7 L1093.5 436.7 L1097.0 437.7 L1100.5 436.1 L1104.0 435.0 L1107.5 435.9 L1110.7 435.2 L1114.5 434.1 L1118.0 434.3 L1121.5 435.1 L1125.0 434.6 L1128.5 433.0 L1132.0 433.6 L1135.5 433.3 L1139.0 433.2 L1142.5 432.5 L1146.0 433.0 L1149.5 431.7 L1153.0 431.9 L1156.5 431.9 L1160.0 432.8 L1163.5 430.8 L1167.0 432.0 L1170.5 430.6 L1174.0 431.2 L1177.5 430.6 L1181.0 430.5 L1184.5 430.9 L1188.0 430.0 L1191.5 429.2 L1195.0 429.0 L1198.5 428.7 L1202.0 430.0 L1205.5 429.4 L1209.0 429.8 L1212.5 429.1 L1216.0 427.5 L1219.5 428.6 L1223.0 428.6 L1226.5 428.3 L1231.0 427.6 L1233.5 427.5 L1237.0 427.0 L1240.5 427.1 L1244.0 427.6 L1247.5 426.4 L1251.0 426.8 L1254.5 426.5 L1258.0 427.3 L1261.5 426.9 L1265.0 427.0 L1268.5 426.6 L1272.0 425.4 L1275.5 425.1 L1279.0 425.5 L1282.5 424.9 L1286.0 425.0 L1289.5 425.4 L1293.0 425.7 L1296.5 424.9 L1300.0 425.2 L1303.5 423.6 L1307.0 424.0 L1310.5 425.2 L1314.0 423.3 L1317.5 423.7 L1321.0 422.9 L1324.5 422.8 L1328.0 424.2 L1331.5 424.3 L1335.0 423.5 L1338.5 422.3 L1342.0 422.5 L1345.5 422.2 L1349.0 422.9 L1351.7 422.5 L1356.0 422.7 L1359.5 422.2 L1363.0 422.2 L1366.5 421.3 L1370.0 422.1 L1373.5 422.8 L1377.0 422.3 L1380.5 420.9 L1384.0 421.7 L1387.5 422.0 L1391.0 421.0 L1394.5 422.1 L1398.0 421.2 L1401.5 421.6 L1405.0 420.9 L1408.5 422.0 L1412.0 421.5 L1415.5 420.9 L1419.0 420.0 L1422.5 420.5 L1426.0 419.6 L1429.5 420.6 L1433.0 421.1 L1436.5 419.5 L1440.0 420.1 L1442.0 420.0 L1447.0 419.6 L1450.5 419.1 L1454.0 419.4 L1457.5 419.5 L1461.0 418.7 L1464.5 417.9 L1468.0 418.6 L1471.5 416.9 L1475.0 417.4 L1478.5 416.9 L1482.0 416.7 L1485.5 416.5 L1489.0 414.9 L1492.5 415.3 L1496.0 414.5 L1499.5 414.7 L1503.0 414.9 L1506.5 413.9 L1510.0 412.2 L1513.5 412.8 L1517.0 412.9 L1520.5 412.9 L1524.0 412.1 L1527.5 412.1 L1532.5 411.0 L1534.5 409.9 L1538.0 411.5 L1541.5 410.8 L1545.0 410.3 L1548.5 410.6 L1552.0 410.4 L1555.5 408.6 L1559.0 409.8 L1562.7 409.0 L1566.0 409.6 L1569.5 408.4 L1573.0 409.6 L1576.5 409.3 L1580.0 408.5 L1583.5 409.8 L1587.0 408.5 L1590.5 409.5 L1594.0 409.2 L1597.5 408.8 L1601.0 409.5 L1604.5 409.4 L1607.9 409.5 L1611.5 414.2 L1615.5 421.8 L1618.5 427.3 L1622.0 431.0 L1625.5 436.2 L1629.0 442.2 L1631.0 445.0 L1636.0 449.9 L1639.5 452.3 L1643.0 455.2 L1646.5 457.5 L1650.0 460.8 L1653.5 464.5 L1657.0 467.2 L1662.0 473.0 L1664.0 476.9 L1667.5 485.8 L1669.7 491.5 L1674.4 511.7 L1677.5 535.0 L1680.0 552.0 L1686.0 548.0 L1688.5 536.8 L1693.0 516.3 L1695.5 507.6 L1699.0 498.6 L1702.2 488.4 L1706.0 473.8 L1708.4 466.7 L1713.0 463.6 L1716.5 461.4 L1720.0 458.5 L1724.0 456.0 L1727.0 453.3 L1730.5 449.8 L1733.2 446.6 L1737.5 444.6 L1741.0 441.0 L1744.0 440.4 L1748.0 446.8 L1750.0 452.0 L1755.7 488.4 L1759.6 454.4 L1762.0 450.6 L1765.5 446.5 L1767.3 445.0 L1769.0 445.5 L1772.5 447.3 L1776.0 451.2 L1778.0 452.8 L1783.0 466.2 L1785.9 473.0 L1790.5 485.3 L1793.5 482.8 L1797.0 479.7 L1801.4 476.0 L1804.0 480.3 L1807.6 488.4 L1811.0 496.9 L1814.5 506.8 L1816.9 511.7 L1823.0 519.4 L1825.0 518.2 L1828.5 517.3 L1832.0 514.7 L1833.9 513.2 L1835.5 485.3 L1839.0 481.0 L1842.5 478.5 L1846.0 473.8 L1847.8 473.0 L1849.5 471.9 L1853.0 467.3 L1856.5 464.3 L1860.0 461.2 L1863.3 457.5 L1867.0 455.7 L1870.5 453.3 L1874.0 452.4 L1878.8 449.7 L1881.0 448.7 L1884.5 449.5 L1888.0 448.9 L1891.5 448.9 L1895.0 449.4 L1898.5 449.1 L1902.0 448.2 L1905.5 447.6 L1909.0 446.0 L1912.5 444.9 L1916.0 444.5 L1917.6 444.3 L1919.5 444.4 L1923.0 446.0 L1926.5 449.4 L1928.4 449.7 L1931.5 466.7 L1933.5 465.9 L1937.0 467.3 L1940.8 466.7 L1944.0 462.5 L1947.0 459.0 L1951.0 465.6 L1954.7 473.0 L1958.0 476.5 L1961.3 480.0 L1965.0 477.4 L1968.5 476.0 L1972.0 473.1 L1975.5 471.5 L1979.4 469.8 L1982.5 471.1 L1986.0 474.7 L1989.5 477.1 L1991.5 477.3 L1996.5 476.3 L2000.5 475.8 L2003.5 480.5 L2007.0 487.6 L2009.5 490.9 L2014.0 493.4 L2017.5 494.8 L2021.0 497.1 L2024.6 500.0 L2028.0 508.4 L2032.1 519.5 L2035.0 513.7 L2038.5 503.4 L2042.7 494.0 L2045.5 493.7 L2049.0 494.6 L2052.5 493.5 L2054.7 494.0 L2059.5 484.7 L2063.0 475.1 L2066.5 465.3 L2069.8 457.7 L2073.5 453.6 L2077.0 448.3 L2080.5 445.3 L2084.0 441.6 L2087.9 436.7 L2091.0 435.1 L2094.5 433.7 L2098.0 432.5 L2101.5 430.4 L2105.0 429.0 L2108.5 427.9 L2112.0 426.0 L2115.5 427.4 L2119.0 427.6 L2122.5 428.8 L2126.0 428.0 L2130.0 429.0 L2133.0 428.9 L2136.5 428.6 L2140.0 427.5 L2142.1 427.6 L2147.0 440.2 L2151.2 451.7 L2154.0 452.6 L2157.5 455.8 L2161.0 456.2 L2163.2 457.7 L2168.0 466.2 L2171.5 474.0 L2175.0 478.8 L2176.8 481.9 L2178.5 478.6 L2182.0 465.3 L2185.5 452.9 L2187.3 448.7 L2189.0 446.9 L2192.5 444.1 L2196.0 442.7 L2199.5 440.4 L2202.4 438.2 L2206.5 439.7 L2210.0 440.1 L2213.5 441.4 L2217.5 442.7 L2220.5 444.4 L2224.0 448.5 L2227.5 450.7 L2232.5 454.7 L2234.5 454.8 L2238.0 456.4 L2241.5 456.2 L2245.0 457.3 L2248.5 459.5 L2250.6 459.3 L2255.5 468.9 L2258.0 474.3 L2262.5 465.5 L2265.7 460.8 L2269.5 460.2 L2273.0 460.3 L2276.5 460.6 L2280.7 460.8 L2283.5 462.0 L2287.0 465.0 L2290.5 467.7 L2292.8 469.8 L2297.5 470.7 L2301.0 472.4 L2304.5 472.9 L2308.0 473.9 L2311.5 475.5 L2315.0 474.9 L2318.5 475.8 L2323.0 477.3 L2325.5 476.6 L2329.0 473.4 L2332.5 471.4 L2336.0 467.2 L2341.0 463.8 L2343.0 462.0 L2346.5 459.4 L2350.0 455.1 L2353.5 452.7 L2357.0 449.0 L2360.0 446.0" stroke="#00ff00" stroke-width="12.2"/>
<path class="cm" d="M267.5 163.4 L271.0 163.4 L274.5 163.7 L278.0 163.5 L281.5 162.7 L285.0 162.9 L288.5 162.8 L292.0 163.0 L295.5 163.1 L299.0 165.0 L302.5 168.1 L305.0 156.4 L308.3 167.2 L310.2 157.8 L312.1 173.1 L314.1 154.6 L316.0 172.7 L317.9 154.5 L319.8 169.7 L321.8 153.5 L323.7 170.4 L325.6 154.2 L327.5 170.5 L329.5 152.0 L331.4 171.8 L333.3 151.8 L335.2 170.6 L337.2 152.8 L340.0 172.9 L342.9 152.5 L344.9 170.7 L346.8 152.5 L348.7 171.5 L350.6 155.0 L352.6 171.4 L354.5 140.1 L356.4 186.4 L358.3 168.7 L360.3 170.4 L362.2 153.2 L364.1 170.1 L366.0 153.5 L368.0 171.9 L369.9 153.0 L371.8 169.6 L373.7 152.3 L375.7 171.0 L377.6 146.9 L380.0 170.6 L383.4 152.9 L385.3 171.2 L387.2 150.7 L389.1 171.4 L391.1 151.6 L393.0 170.0 L394.9 153.5 L396.8 170.5 L398.8 151.8 L400.7 169.3 L402.6 151.9 L404.5 170.3 L406.5 153.6 L408.4 168.4 L410.7 151.2 L414.2 171.1 L416.1 153.4 L418.0 164.8 L419.9 159.2 L421.9 169.9 L423.8 153.1 L425.7 169.4 L427.6 152.7 L429.6 168.8 L431.5 151.3 L433.4 169.1 L435.3 153.7 L437.3 169.4 L440.0 146.0 L443.0 170.6 L445.0 151.9 L446.9 169.3 L448.8 153.4 L450.7 169.9 L452.7 153.1 L455.9 170.5 L458.4 154.4 L460.4 172.0 L462.3 156.6 L464.2 173.9 L466.1 159.2 L468.1 177.2 L470.0 160.5 L471.9 178.3 L473.8 160.4 L477.0 179.9 L479.6 162.5 L481.5 184.6 L483.5 169.4 L485.4 188.9 L487.3 176.1 L489.2 189.5 L491.2 179.3 L493.1 194.3 L495.0 183.1 L496.9 198.9 L498.9 189.3 L500.8 206.7 L502.7 194.0 L504.6 211.3 L506.6 202.3 L508.5 216.4 L510.4 207.3 L512.3 223.4 L514.3 214.0 L516.1 230.0 L518.1 221.2 L520.0 235.3 L522.0 224.2 L523.9 242.7 L525.8 231.9 L527.7 247.9 L531.2 240.7 L533.5 255.8 L535.4 247.5 L537.4 257.7 L539.3 251.9 L541.2 265.4 L543.1 255.8 L545.1 269.0 L547.0 260.5 L548.9 273.9 L550.8 264.5 L552.8 277.9 L554.7 269.9 L556.6 281.7 L558.5 273.6 L561.3 288.9 L564.3 279.1 L566.2 293.2 L568.1 284.8 L570.1 298.6 L572.0 291.3 L573.9 305.3 L575.8 293.9 L577.8 306.5 L579.7 299.8 L581.6 310.9 L583.5 301.8 L585.4 315.1 L587.4 304.1 L589.3 321.5 L591.2 314.0 L594.7 317.4 L598.2 321.2 L600.5 322.2 L605.2 322.9 L608.7 322.3 L612.2 322.5 L615.6 322.2 L619.2 320.1 L622.7 316.8 L626.2 314.1 L630.6 310.1 L633.2 306.2 L636.7 301.0 L640.2 295.4 L643.7 290.3 L648.7 283.0 L650.7 280.4 L654.2 273.9 L657.7 268.5 L661.2 263.0 L663.8 258.9 L668.2 254.7 L671.7 250.2 L675.2 246.6 L678.7 243.3 L681.9 240.8 L685.7 239.2 L689.2 238.8 L692.7 237.8 L696.2 236.0 L699.7 235.1 L703.2 234.4 L706.7 233.5 L710.2 232.5 L712.0 231.8 L713.7 230.9 L717.2 229.4 L720.7 228.6 L724.2 227.1 L727.7 226.6 L731.2 224.8 L734.7 223.6 L738.2 223.2 L741.7 221.6 L745.2 221.1 L748.7 219.5 L752.2 218.8 L757.2 216.7 L759.2 215.6 L762.7 215.0 L766.2 214.4 L769.7 212.4 L773.2 212.6 L776.7 210.5 L780.2 210.3 L783.7 209.5 L787.2 208.2 L790.7 206.3 L794.2 204.8 L796.4 204.6 L801.2 200.9 L804.7 198.6 L808.2 194.6 L811.7 192.4 L815.2 188.4 L818.7 186.8 L820.5 185.0 L822.2 183.8 L825.7 183.1 L829.2 182.8 L832.7 181.7 L836.2 180.9 L839.7 179.8 L843.2 178.8 L847.6 177.5 L850.2 177.5 L853.7 176.5 L857.2 176.6 L860.7 176.0 L864.2 176.5 L867.7 176.2 L871.2 175.4 L874.7 174.9 L878.2 175.9 L881.7 175.5 L885.2 174.9 L888.7 174.7 L892.8 174.5 L895.7 176.0 L899.2 176.9 L902.7 178.5 L906.2 179.8 L907.9 180.5 L909.7 179.7 L913.2 178.2 L916.7 177.8 L920.2 176.0 L923.7 174.7 L927.2 172.6 L932.0 171.5 L934.2 170.9 L937.7 170.0 L941.2 169.4 L944.7 169.1 L948.2 169.4 L951.7 168.2 L955.2 167.7 L960.0 167.0 L962.2 166.4 L965.7 164.5 L969.2 162.7 L972.7 161.9 L976.2 160.3 L979.7 159.0 L983.2 157.3 L986.7 156.3 L990.0 155.0 L993.7 154.9 L997.2 153.9 L1000.7 153.9 L1004.2 153.6 L1007.7 152.9 L1011.2 152.9 L1014.7 152.8 L1018.2 153.0 L1021.7 152.8 L1025.2 151.6 L1028.7 151.9 L1032.2 150.8 L1035.0 151.3 L1039.2 150.6 L1042.7 151.2 L1046.2 151.7 L1049.7 150.6 L1053.2 151.4 L1056.7 151.5 L1060.2 150.7 L1063.7 151.2 L1067.2 151.3 L1070.7 150.6 L1074.2 151.0 L1077.7 151.0 L1081.2 150.8 L1084.7 151.1 L1088.2 151.2 L1091.7 151.2 L1095.2 150.6 L1098.7 150.0 L1102.2 150.1 L1105.7 150.0 L1110.7 150.4 L1112.7 150.5 L1116.2 150.8 L1119.7 149.8 L1123.2 150.7 L1126.7 150.7 L1130.2 150.2 L1133.7 150.4 L1137.2 149.9 L1140.7 150.7 L1144.2 149.8 L1147.7 151.1 L1151.2 150.8 L1154.7 150.6 L1158.2 150.1 L1161.7 151.0 L1165.2 151.0 L1168.7 149.9 L1172.2 150.8 L1175.7 150.9 L1179.2 150.6 L1182.7 150.7 L1186.2 150.3 L1189.7 151.0 L1193.2 151.1 L1196.7 150.2 L1200.2 150.8 L1203.7 150.3 L1207.2 149.9 L1210.7 150.2 L1214.2 149.9 L1217.7 151.0 L1221.2 151.0 L1224.7 149.9 L1228.2 150.5 L1231.7 150.3 L1235.2 149.9 L1238.7 150.1 L1242.2 150.0 L1245.7 150.7 L1249.2 149.7 L1252.7 150.0 L1256.2 150.3 L1259.7 149.7 L1263.2 150.6 L1266.7 150.5 L1270.2 150.9 L1273.7 150.0 L1277.2 150.1 L1280.7 150.5 L1284.2 150.1 L1287.7 150.5 L1291.2 150.1 L1294.7 150.7 L1298.2 150.8 L1301.7 150.8 L1305.2 151.1 L1308.7 150.5 L1312.2 150.4 L1315.7 150.9 L1319.2 150.8 L1321.6 150.4 L1326.2 150.5 L1329.7 150.3 L1333.2 150.1 L1336.7 149.9 L1340.2 150.9 L1343.7 150.0 L1347.2 150.9 L1350.7 150.6 L1354.2 151.2 L1357.7 151.0 L1361.2 151.3 L1364.7 150.1 L1368.2 150.7 L1371.7 150.8 L1375.2 150.4 L1378.7 150.7 L1382.2 150.5 L1385.7 150.8 L1389.2 150.1 L1392.7 150.7 L1396.2 150.8 L1399.7 150.6 L1403.2 150.8 L1406.7 151.3 L1410.2 151.2 L1413.7 151.0 L1417.2 151.2 L1420.7 150.8 L1424.2 150.6 L1427.7 150.4 L1431.2 150.8 L1434.7 151.2 L1438.2 151.7 L1441.7 151.6 L1445.2 151.2 L1448.7 151.9 L1452.2 151.2 L1455.7 151.7 L1459.2 151.1 L1462.7 151.6 L1466.2 152.0 L1469.7 151.0 L1472.0 151.3 L1476.7 150.8 L1480.2 151.4 L1483.7 151.3 L1487.2 151.0 L1490.7 150.4 L1494.2 151.0 L1497.7 151.0 L1501.2 150.9 L1504.7 151.5 L1508.2 151.1 L1511.7 151.2 L1515.2 151.4 L1518.7 151.2 L1522.2 150.8 L1525.7 151.1 L1529.2 150.9 L1532.7 150.9 L1536.2 150.8 L1539.7 150.5 L1543.2 150.7 L1546.7 150.7 L1550.2 151.1 L1553.7 150.9 L1557.2 150.9 L1560.7 150.8 L1562.7 150.4 L1567.7 150.8 L1571.2 150.5 L1574.7 150.2 L1578.2 150.1 L1581.7 150.7 L1585.2 150.9 L1588.7 150.5 L1592.2 149.9 L1595.7 150.9 L1599.2 150.4 L1602.7 150.4 L1606.2 149.8 L1607.9 150.4 L1609.7 150.7 L1613.2 151.6 L1616.7 151.9 L1620.2 152.5 L1623.0 153.4 L1627.2 157.1 L1630.7 159.5 L1634.2 163.7 L1637.7 167.8 L1641.0 170.0 L1644.7 172.6 L1648.2 173.1 L1651.7 175.8 L1655.2 177.0 L1660.0 179.0 L1662.2 180.1 L1665.7 184.1 L1669.2 190.9 L1672.0 192.6 L1676.2 197.9 L1679.7 202.3 L1684.1 209.2 L1686.7 208.7 L1690.2 204.5 L1693.7 200.5 L1697.2 197.6 L1699.2 195.6 L1702.7 187.3 L1704.6 194.7 L1706.5 182.0 L1708.4 188.6 L1711.2 176.0 L1714.2 187.7 L1716.1 175.0 L1718.1 188.1 L1720.0 177.4 L1721.9 187.7 L1723.8 174.5 L1726.3 187.4 L1729.6 173.0 L1731.5 184.2 L1733.5 172.4 L1735.4 184.7 L1737.3 171.3 L1739.2 180.4 L1741.2 172.4 L1744.4 181.9 L1746.9 171.9 L1748.9 181.4 L1750.8 172.7 L1752.7 182.4 L1754.6 172.7 L1756.4 186.9 L1758.5 171.9 L1760.4 185.9 L1762.3 172.5 L1764.3 181.8 L1766.2 170.6 L1768.1 178.2 L1771.5 166.3 L1773.9 177.7 L1775.8 168.5 L1777.7 180.3 L1779.7 171.0 L1781.6 186.7 L1783.5 172.5 L1786.6 188.4 L1789.3 175.8 L1791.2 188.4 L1793.1 177.0 L1795.1 185.9 L1797.0 174.3 L1798.9 185.9 L1801.6 180.5 L1804.3 183.7 L1807.8 188.9 L1810.7 195.6 L1814.8 205.9 L1819.7 216.7 L1821.8 218.1 L1825.3 218.3 L1828.8 214.8 L1832.3 214.9 L1834.8 216.7 L1840.8 180.5 L1842.8 180.2 L1846.3 178.0 L1849.8 177.3 L1853.3 176.2 L1856.8 175.4 L1860.3 174.6 L1864.9 174.5 L1867.3 174.9 L1870.8 175.5 L1874.3 175.9 L1877.8 176.6 L1881.3 176.9 L1884.8 177.1 L1888.3 178.0 L1891.8 179.1 L1895.0 179.0 L1898.8 180.6 L1902.3 181.4 L1905.8 182.5 L1909.3 185.2 L1912.8 186.2 L1916.3 187.4 L1919.8 189.3 L1923.3 190.8 L1926.8 192.2 L1931.2 194.0 L1933.8 194.4 L1937.3 196.2 L1940.8 197.7 L1944.3 198.8 L1947.8 201.1 L1951.3 201.9 L1954.8 203.6 L1958.3 205.1 L1961.3 206.0 L1965.3 208.2 L1968.8 209.8 L1972.3 211.5 L1975.8 212.4 L1979.3 214.9 L1982.8 215.2 L1985.4 216.7 L1989.8 218.0 L1993.3 218.5 L1996.8 219.0 L2000.3 218.4 L2003.8 218.9 L2006.5 219.7 L2010.8 219.8 L2014.3 218.9 L2017.8 218.4 L2021.3 218.8 L2024.8 217.0 L2028.3 217.1 L2030.6 216.7 L2035.3 212.3 L2038.8 208.1 L2042.7 204.6 L2045.8 202.0 L2049.3 199.7 L2052.8 197.2 L2056.3 193.3 L2059.8 191.4 L2063.3 188.4 L2066.8 186.6 L2070.3 185.6 L2073.8 183.3 L2077.3 181.9 L2080.8 181.1 L2084.3 180.4 L2087.8 178.6 L2091.3 177.2 L2094.8 177.0 L2096.9 176.0 L2101.8 175.7 L2105.3 175.2 L2108.8 173.9 L2112.3 173.5 L2115.8 172.8 L2119.3 172.7 L2122.8 171.9 L2126.3 171.5 L2129.8 171.7 L2133.3 171.5 L2136.8 170.6 L2140.3 169.6 L2142.1 170.0 L2143.8 170.4 L2147.3 170.6 L2150.8 171.9 L2154.3 172.1 L2157.8 172.8 L2161.3 173.3 L2164.8 173.6 L2168.3 174.6 L2172.3 174.5 L2175.3 174.4 L2178.8 172.9 L2182.3 171.8 L2185.8 171.1 L2189.3 170.3 L2192.8 168.7 L2196.3 168.1 L2199.8 167.6 L2202.4 167.0 L2206.8 166.1 L2210.3 167.1 L2213.8 166.7 L2217.3 166.1 L2220.8 166.0 L2224.3 165.9 L2227.8 165.8 L2231.3 166.2 L2234.8 165.7 L2238.6 165.5 L2241.8 164.2 L2245.3 162.0 L2248.8 161.2 L2252.3 158.5 L2255.8 156.9 L2258.0 156.4 L2262.8 157.7 L2266.3 160.8 L2269.8 162.0 L2273.3 164.4 L2277.7 165.5 L2280.3 166.0 L2283.8 165.9 L2287.3 165.6 L2290.8 165.6 L2294.3 165.4 L2297.8 165.0 L2301.3 163.9 L2304.8 164.2 L2307.9 164.0 L2311.8 162.7 L2315.3 161.9 L2318.8 160.0 L2322.3 158.3 L2325.8 156.7 L2329.3 154.4 L2332.0 153.4 L2336.3 151.5 L2339.8 149.1 L2343.3 146.7 L2346.8 144.6 L2350.3 143.3 L2353.8 140.5 L2357.3 137.9 L2360.0 136.8" stroke="#0000ff" stroke-width="11.3"/>
<!-- pink guide lines -->
<g>
<rect x="601.4" y="144.4" width="10.8" height="61.5" rx="2" fill="#f3bfc9"/>
<rect x="601.4" y="228.9" width="10.8" height="16.5" rx="2" fill="#f3bfc9"/>
<rect x="601.4" y="269.4" width="10.8" height="61.5" rx="2" fill="#f3bfc9"/>
<rect x="601.4" y="353.9" width="10.8" height="16.5" rx="2" fill="#f3bfc9"/>
<rect x="601.4" y="394.4" width="10.8" height="61.5" rx="2" fill="#f3bfc9"/>
<rect x="601.4" y="478.9" width="10.8" height="16.5" rx="2" fill="#f3bfc9"/>
<rect x="601.4" y="519.4" width="10.8" height="61.5" rx="2" fill="#f3bfc9"/>
<rect x="601.4" y="603.9" width="10.8" height="16.5" rx="2" fill="#f3bfc9"/>
<rect x="601.4" y="644.4" width="10.8" height="61.5" rx="2" fill="#f3bfc9"/>
<rect x="601.4" y="728.9" width="10.8" height="16.5" rx="2" fill="#f3bfc9"/>
<rect x="601.4" y="769.4" width="10.8" height="61.5" rx="2" fill="#f3bfc9"/>
<rect x="601.4" y="853.9" width="10.8" height="16.5" rx="2" fill="#f3bfc9"/>
<rect x="601.4" y="894.4" width="10.8" height="61.5" rx="2" fill="#f3bfc9"/>
<rect x="601.4" y="978.9" width="10.8" height="16.5" rx="2" fill="#f3bfc9"/>
<rect x="601.4" y="1019.4" width="10.8" height="61.5" rx="2" fill="#f3bfc9"/>
<rect x="601.4" y="1103.9" width="10.8" height="16.5" rx="2" fill="#f3bfc9"/>
<rect x="601.4" y="1144.4" width="10.8" height="61.5" rx="2" fill="#f3bfc9"/>
<rect x="601.4" y="1228.9" width="10.8" height="16.5" rx="2" fill="#f3bfc9"/>
<rect x="601.4" y="1269.4" width="10.8" height="61.5" rx="2" fill="#f3bfc9"/>
<rect x="601.4" y="1353.9" width="10.8" height="16.5" rx="2" fill="#f3bfc9"/>
<rect x="902.6" y="64.2" width="10.8" height="61.5" rx="2" fill="#f3bfc9"/>
<rect x="902.6" y="148.7" width="10.8" height="16.5" rx="2" fill="#f3bfc9"/>
<rect x="902.6" y="189.2" width="10.8" height="61.5" rx="2" fill="#f3bfc9"/>
<rect x="902.6" y="273.7" width="10.8" height="16.5" rx="2" fill="#f3bfc9"/>
<rect x="902.6" y="314.2" width="10.8" height="61.5" rx="2" fill="#f3bfc9"/>
<rect x="902.6" y="398.7" width="10.8" height="16.5" rx="2" fill="#f3bfc9"/>
<rect x="902.6" y="439.2" width="10.8" height="61.5" rx="2" fill="#f3bfc9"/>
<rect x="902.6" y="523.7" width="10.8" height="16.5" rx="2" fill="#f3bfc9"/>
<rect x="902.6" y="564.2" width="10.8" height="61.5" rx="2" fill="#f3bfc9"/>
<rect x="902.6" y="648.7" width="10.8" height="16.5" rx="2" fill="#f3bfc9"/>
<rect x="902.6" y="689.2" width="10.8" height="61.5" rx="2" fill="#f3bfc9"/>
<rect x="902.6" y="773.7" width="10.8" height="16.5" rx="2" fill="#f3bfc9"/>
<rect x="902.6" y="814.2" width="10.8" height="61.5" rx="2" fill="#f3bfc9"/>
<rect x="902.6" y="898.7" width="10.8" height="16.5" rx="2" fill="#f3bfc9"/>
<rect x="899.2" y="689.5" width="10.8" height="61.2" rx="2" fill="#f3bfc9"/>
<rect x="899.2" y="773.7" width="10.8" height="16.5" rx="2" fill="#f3bfc9"/>
<rect x="899.2" y="814.2" width="10.8" height="61.5" rx="2" fill="#f3bfc9"/>
<rect x="899.2" y="898.7" width="10.8" height="16.5" rx="2" fill="#f3bfc9"/>
<rect x="899.2" y="939.2" width="10.8" height="39.3" rx="2" fill="#f3bfc9"/>
<rect x="945.9" y="64.2" width="10.8" height="47.0" rx="2" fill="#f3bfc9"/>
<rect x="945.9" y="134.2" width="10.8" height="16.5" rx="2" fill="#f3bfc9"/>
<rect x="945.9" y="174.2" width="10.8" height="16.5" rx="2" fill="#f3bfc9"/>
<rect x="945.9" y="215.0" width="10.8" height="47.0" rx="2" fill="#f3bfc9"/>
<rect x="945.9" y="285.0" width="10.8" height="16.5" rx="2" fill="#f3bfc9"/>
<rect x="945.9" y="325.0" width="10.8" height="16.5" rx="2" fill="#f3bfc9"/>
<rect x="945.9" y="365.8" width="10.8" height="47.0" rx="2" fill="#f3bfc9"/>
<rect x="945.9" y="435.8" width="10.8" height="16.5" rx="2" fill="#f3bfc9"/>
<rect x="945.9" y="475.8" width="10.8" height="16.5" rx="2" fill="#f3bfc9"/>
<rect x="945.9" y="516.6" width="10.8" height="47.0" rx="2" fill="#f3bfc9"/>
<rect x="945.9" y="586.6" width="10.8" height="16.5" rx="2" fill="#f3bfc9"/>
<rect x="945.9" y="626.6" width="10.8" height="16.5" rx="2" fill="#f3bfc9"/>
<rect x="945.9" y="667.4" width="10.8" height="46.6" rx="2" fill="#f3bfc9"/>
<rect x="942.4" y="626.6" width="10.8" height="16.5" rx="2" fill="#f3bfc9"/>
<rect x="942.4" y="667.4" width="10.8" height="47.0" rx="2" fill="#f3bfc9"/>
<rect x="942.4" y="737.4" width="10.8" height="16.5" rx="2" fill="#f3bfc9"/>
<rect x="942.4" y="777.4" width="10.8" height="16.5" rx="2" fill="#f3bfc9"/>
<rect x="942.4" y="818.2" width="10.8" height="47.0" rx="2" fill="#f3bfc9"/>
<rect x="942.4" y="888.2" width="10.8" height="16.5" rx="2" fill="#f3bfc9"/>
<rect x="942.4" y="928.2" width="10.8" height="16.5" rx="2" fill="#f3bfc9"/>
<rect x="2026.7" y="78.7" width="10.8" height="61.5" rx="2" fill="#f3bfc9"/>
<rect x="2026.7" y="163.2" width="10.8" height="16.5" rx="2" fill="#f3bfc9"/>
<rect x="2026.7" y="203.7" width="10.8" height="61.5" rx="2" fill="#f3bfc9"/>
<rect x="2026.7" y="288.2" width="10.8" height="16.5" rx="2" fill="#f3bfc9"/>
<rect x="2026.7" y="328.7" width="10.8" height="61.5" rx="2" fill="#f3bfc9"/>
<rect x="2026.7" y="413.2" width="10.8" height="16.5" rx="2" fill="#f3bfc9"/>
<rect x="2026.7" y="453.7" width="10.8" height="61.5" rx="2" fill="#f3bfc9"/>
<rect x="2026.7" y="538.2" width="10.8" height="16.5" rx="2" fill="#f3bfc9"/>
<rect x="2026.7" y="578.7" width="10.8" height="61.5" rx="2" fill="#f3bfc9"/>
<rect x="2026.7" y="663.2" width="10.8" height="16.5" rx="2" fill="#f3bfc9"/>
<rect x="2026.7" y="703.7" width="10.8" height="61.5" rx="2" fill="#f3bfc9"/>
<rect x="2026.7" y="788.2" width="10.8" height="16.5" rx="2" fill="#f3bfc9"/>
<rect x="2026.7" y="828.7" width="10.8" height="61.5" rx="2" fill="#f3bfc9"/>
<rect x="2026.7" y="913.2" width="10.8" height="16.5" rx="2" fill="#f3bfc9"/>
<rect x="2026.7" y="953.7" width="10.8" height="61.5" rx="2" fill="#f3bfc9"/>
<rect x="2026.7" y="1038.2" width="10.8" height="16.5" rx="2" fill="#f3bfc9"/>
<rect x="2026.7" y="1078.7" width="10.8" height="61.5" rx="2" fill="#f3bfc9"/>
<rect x="2026.7" y="1163.2" width="10.8" height="16.5" rx="2" fill="#f3bfc9"/>
<rect x="2026.7" y="1203.7" width="10.8" height="61.5" rx="2" fill="#f3bfc9"/>
<rect x="2026.7" y="1288.2" width="10.8" height="16.5" rx="2" fill="#f3bfc9"/>
<rect x="2172.3" y="64.5" width="10.8" height="61.5" rx="2" fill="#f3bfc9"/>
<rect x="2172.3" y="149.0" width="10.8" height="16.5" rx="2" fill="#f3bfc9"/>
<rect x="2172.3" y="189.5" width="10.8" height="61.5" rx="2" fill="#f3bfc9"/>
<rect x="2172.3" y="274.0" width="10.8" height="16.5" rx="2" fill="#f3bfc9"/>
<rect x="2172.3" y="314.5" width="10.8" height="61.5" rx="2" fill="#f3bfc9"/>
<rect x="2172.3" y="399.0" width="10.8" height="16.5" rx="2" fill="#f3bfc9"/>
<rect x="2172.3" y="439.5" width="10.8" height="61.5" rx="2" fill="#f3bfc9"/>
<rect x="2172.3" y="524.0" width="10.8" height="16.5" rx="2" fill="#f3bfc9"/>
<rect x="2172.3" y="564.5" width="10.8" height="61.5" rx="2" fill="#f3bfc9"/>
<rect x="2172.3" y="649.0" width="10.8" height="14.0" rx="2" fill="#f3bfc9"/>
</g>
<!-- green guide lines -->
<g>
<rect x="1682.3" y="138.3" width="10.8" height="61.5" rx="2" fill="#008000"/>
<rect x="1682.3" y="222.8" width="10.8" height="16.5" rx="2" fill="#008000"/>
<rect x="1682.3" y="263.3" width="10.8" height="61.5" rx="2" fill="#008000"/>
<rect x="1682.3" y="347.8" width="10.8" height="16.5" rx="2" fill="#008000"/>
<rect x="1682.3" y="388.3" width="10.8" height="61.5" rx="2" fill="#008000"/>
<rect x="1682.3" y="472.8" width="10.8" height="16.5" rx="2" fill="#008000"/>
<rect x="1682.3" y="513.3" width="10.8" height="61.5" rx="2" fill="#008000"/>
<rect x="1682.3" y="597.8" width="10.8" height="16.5" rx="2" fill="#008000"/>
<rect x="1682.3" y="638.3" width="10.8" height="24.9" rx="2" fill="#008000"/>
<rect x="1678.8" y="769.8" width="10.8" height="61.5" rx="2" fill="#008000"/>
<rect x="1678.8" y="854.3" width="10.8" height="16.5" rx="2" fill="#008000"/>
<rect x="1678.8" y="894.8" width="10.8" height="61.5" rx="2" fill="#008000"/>
<rect x="1678.8" y="979.3" width="10.8" height="16.5" rx="2" fill="#008000"/>
<rect x="1678.8" y="1019.8" width="10.8" height="61.5" rx="2" fill="#008000"/>
<rect x="1678.8" y="1104.3" width="10.8" height="16.5" rx="2" fill="#008000"/>
<rect x="1678.8" y="1144.8" width="10.8" height="61.5" rx="2" fill="#008000"/>
<rect x="1678.8" y="1229.3" width="10.8" height="16.5" rx="2" fill="#008000"/>
<rect x="1678.8" y="1269.8" width="10.8" height="28.2" rx="2" fill="#008000"/>
<rect x="1818.8" y="89.2" width="10.8" height="61.5" rx="2" fill="#008000"/>
<rect x="1818.8" y="173.7" width="10.8" height="16.5" rx="2" fill="#008000"/>
<rect x="1818.8" y="214.2" width="10.8" height="61.5" rx="2" fill="#008000"/>
<rect x="1818.8" y="298.7" width="10.8" height="16.5" rx="2" fill="#008000"/>
<rect x="1818.8" y="339.2" width="10.8" height="61.5" rx="2" fill="#008000"/>
<rect x="1818.8" y="423.7" width="10.8" height="16.5" rx="2" fill="#008000"/>
<rect x="1818.8" y="464.2" width="10.8" height="61.5" rx="2" fill="#008000"/>
<rect x="1818.8" y="548.7" width="10.8" height="16.5" rx="2" fill="#008000"/>
<rect x="1818.8" y="589.2" width="10.8" height="24.3" rx="2" fill="#008000"/>
</g>
<rect x="1833" y="265.5" width="3.6" height="3.6" fill="#8c8c8c"/>
<!-- arrows -->
<g>
<polygon points="1679.8,235.9 1644.5,260.8 1639.8,254.1 1611.4,285.1 1614.6,289.5 1653.3,273.3 1648.6,266.6 1684.0,241.7" fill="#e8553c"/>
<polygon points="2179.2,579.5 2210.3,609.6 2204.6,615.5 2240.3,637.6 2244.1,633.6 2221.0,598.6 2215.3,604.5 2184.2,574.3" fill="#e8553c"/>
<polygon points="896.2,904.8 869.6,938.4 863.2,933.3 844.8,971.1 849.2,974.5 881.6,947.9 875.2,942.9 901.8,909.2" fill="#e8553c"/>
<polygon points="950.8,908.4 972.8,933.1 966.7,938.5 1000.6,963.2 1004.8,959.6 984.3,922.9 978.2,928.4 956.2,903.6" fill="#e8553c"/>
<polygon points="2019.5,933.9 1983.0,971.0 1977.2,965.2 1954.8,1000.8 1958.8,1004.6 1993.9,981.7 1988.1,976.0 2024.7,938.9" fill="#e8553c"/>
<polygon points="1616.3,1202.9 1579.3,1239.1 1573.6,1233.2 1550.6,1268.3 1554.4,1272.3 1590.0,1250.0 1584.3,1244.2 1621.3,1208.1" fill="#e8553c"/>
</g>
<g>
<text transform="translate(266.7,1541.3) scale(0.9550,1.0000)" class="tk" text-anchor="middle">4000</text>
<text transform="translate(565.7,1541.3) scale(0.9550,1.0000)" class="tk" text-anchor="middle">3500</text>
<text transform="translate(864.6,1541.3) scale(0.9550,1.0000)" class="tk" text-anchor="middle">3000</text>
<text transform="translate(1163.6,1541.3) scale(0.9550,1.0000)" class="tk" text-anchor="middle">2500</text>
<text transform="translate(1462.6,1541.3) scale(0.9550,1.0000)" class="tk" text-anchor="middle">2000</text>
<text transform="translate(1761.6,1541.3) scale(0.9550,1.0000)" class="tk" text-anchor="middle">1500</text>
<text transform="translate(2060.5,1541.3) scale(0.9550,1.0000)" class="tk" text-anchor="middle">1000</text>
<text transform="translate(2361.5,1541.3) scale(0.9550,1.0000)" class="tk" text-anchor="middle">500</text>
</g>
<g>
<text transform="translate(611.4,121.3) scale(0.9750,1.0450)" class="an" text-anchor="middle">3430</text>
<text transform="translate(1588.7,354.6) scale(0.9750,1.0450)" class="an" text-anchor="middle">1610</text>
<text transform="translate(1818.6,676.8) scale(0.9750,1.0450)" class="an" text-anchor="middle">1400</text>
<text transform="translate(2275.3,702.3) scale(0.9750,1.0450)" class="an" text-anchor="middle">820</text>
<text transform="translate(816.7,1036.4) scale(0.9750,1.0450)" class="an" text-anchor="middle">2930</text>
<text transform="translate(1064.7,1026.8) scale(0.9750,1.0450)" class="an" text-anchor="middle">2861</text>
<text transform="translate(1935.9,1062.2) scale(0.9750,1.0450)" class="an" text-anchor="middle">1108</text>
<text transform="translate(1522.7,1321.8) scale(0.9750,1.0450)" class="an" text-anchor="middle">1720</text>
<text transform="translate(1682.4,1364.7) scale(0.9750,1.0450)" class="an" text-anchor="middle">1645</text>
</g>
<g>
<text transform="translate(351.1,112.8) scale(1.0000,1.0300)" class="lt" text-anchor="middle">d</text>
<text transform="translate(353.0,361.0) scale(1.0000,1.0300)" class="lt" text-anchor="middle">c</text>
<text transform="translate(358.6,712.0) scale(1.0000,1.0300)" class="lt" text-anchor="middle">b</text>
<text transform="translate(354.1,1074.0) scale(1.0000,1.0300)" class="lt" text-anchor="middle">a</text>
</g>
<text x="708" y="1636" class="ax" text-anchor="start" font-kerning="none" dx="0 1.6 3.4 0 0 0 0 0 0 0 4.3">Wavenumber (cm<tspan font-size="75" dy="-37.5" dx="0.3">-1</tspan><tspan dy="37.5" dx="1.5">)</tspan></text>
<text transform="translate(93,749.5) rotate(-90)" class="ax" text-anchor="middle">Transmittance (a.u.)</text>
</g>
</svg>
</body>
</html>
